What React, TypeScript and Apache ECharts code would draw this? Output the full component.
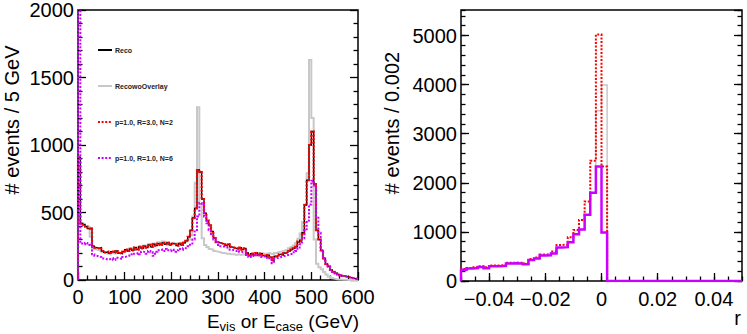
import React, { useEffect, useRef } from "react";
import * as echarts from "echarts";

const FONT = '"Liberation Sans", Arial, Helvetica, sans-serif';

// ---------- left panel: E_vis / E_case, 5 GeV bins from 0 to 600 ----------
const eBinStart = 0;
const eBinWidth = 5;
const eAxisMax = 600;
const eYMax = 2000;

const recoVals = [
  910, 420, 410, 395, 380, 385, 250, 240, 235, 240,
  215, 205, 210, 200, 210, 205, 215, 200, 195, 210,
  225, 215, 230, 220, 240, 225, 245, 235, 250, 240,
  260, 245, 265, 255, 270, 260, 275, 265, 275, 260,
  270, 265, 255, 270, 260, 275, 290, 320, 370, 460,
  530, 815, 800, 600, 495, 440, 405, 360, 310, 280,
  275, 270, 265, 255, 265, 245, 240, 235, 230, 240,
  225, 235, 200, 180, 195, 185, 200, 185, 195, 180,
  175, 185, 170, 145, 175, 180, 190, 185, 200, 205,
  215, 225, 235, 245, 280, 295, 350, 555, 740, 1000,
  1100, 710, 370, 300, 220, 160, 120, 100, 75, 60,
  50, 42, 36, 30, 26, 22, 18, 14, 10, 6,
];

const recoWoOverlayVals = [
  480, 420, 415, 400, 395, 320, 230, 225, 220, 215,
  205, 200, 195, 190, 200, 195, 205, 200, 195, 205,
  220, 225, 235, 230, 245, 240, 250, 245, 255, 250,
  265, 260, 270, 265, 280, 275, 285, 280, 280, 270,
  275, 270, 265, 275, 270, 280, 285, 300, 330, 470,
  720, 1280, 560, 310, 260, 245, 230, 225, 215, 210,
  205, 200, 200, 195, 195, 190, 190, 185, 190, 185,
  190, 185, 190, 185, 195, 190, 195, 190, 200, 195,
  195, 200, 195, 190, 200, 205, 210, 215, 220, 225,
  235, 245, 255, 275, 305, 345, 430, 560, 790, 1630,
  1200, 300, 120, 95, 80, 60, 40, 25, 15, 10,
  6, 4, 3, 2, 1, 0, 0, 0, 0, 0,
];

const p1R3N2Vals = [
  910, 420, 410, 395, 380, 385, 250, 240, 235, 240,
  215, 205, 210, 200, 210, 205, 215, 200, 195, 210,
  225, 215, 230, 220, 240, 225, 245, 235, 250, 240,
  260, 245, 265, 255, 270, 260, 275, 265, 275, 260,
  270, 265, 255, 270, 260, 275, 290, 320, 370, 460,
  530, 815, 800, 600, 495, 440, 405, 360, 310, 280,
  275, 270, 265, 255, 265, 245, 240, 235, 230, 240,
  225, 235, 200, 180, 195, 185, 200, 185, 195, 180,
  175, 185, 170, 145, 175, 180, 190, 185, 200, 205,
  215, 225, 235, 245, 285, 290, 345, 555, 740, 1000,
  1100, 710, 370, 300, 220, 160, 120, 100, 75, 60,
  50, 42, 36, 30, 26, 22, 18, 14, 10, 6,
];

const p1R1N6Vals = [
  2150, 270, 265, 275, 260, 270, 190, 180, 175, 170,
  160, 155, 150, 155, 160, 150, 165, 160, 155, 170,
  175, 180, 190, 185, 195, 200, 190, 210, 205, 195,
  215, 205, 180, 210, 220, 225, 215, 230, 220, 215,
  225, 210, 220, 230, 225, 235, 240, 250, 270, 300,
  360, 470, 570, 555, 470, 420, 370, 340, 300, 280,
  260, 250, 245, 240, 235, 225, 220, 215, 220, 210,
  205, 210, 185, 170, 180, 175, 185, 180, 170, 175,
  165, 170, 150, 125, 160, 165, 170, 175, 180, 185,
  190, 195, 205, 215, 240, 265, 310, 365, 440, 560,
  735, 700, 470, 350, 220, 160, 120, 100, 75, 60,
  50, 42, 36, 30, 26, 22, 18, 14, 10, 6,
];

// ---------- right panel: r, 0.002 bins from -0.05 to 0.05 ----------
const rBinStart = -0.05;
const rBinWidth = 0.002;
const rAxisMax = 0.05;
const rYMax = 5520;
const rTickLabels = [-0.04, -0.02, 0, 0.02, 0.04];

const rWoOverlayVals = [
  230, 255, 265, 285, 260, 300, 300, 310, 355, 360,
  355, 340, 430, 460, 520, 525, 560, 680, 690, 790,
  950, 1050, 1350, 1800, 3470, 3990, 0, 0, 0, 0,
  0, 0, 0, 0, 0, 0, 0, 0, 0, 0,
  0, 0, 0, 0, 0, 0, 0, 0, 0, 0,
];
const rR3N2Vals = [
  245, 265, 280, 300, 280, 315, 315, 325, 370, 375,
  370, 355, 450, 480, 540, 545, 600, 735, 740, 890,
  1040, 1245, 1620, 2450, 5020, 2330, 0, 0, 0, 0,
  0, 0, 0, 0, 0, 0, 0, 0, 0, 0,
  0, 0, 0, 0, 0, 0, 0, 0, 0, 0,
];
const rR1N6Vals = [
  230, 255, 265, 285, 260, 300, 300, 310, 355, 360,
  355, 340, 430, 460, 520, 525, 560, 680, 690, 790,
  950, 1050, 1350, 1800, 2330, 990, 0, 0, 0, 0,
  0, 0, 0, 0, 0, 0, 0, 0, 0, 0,
  0, 0, 0, 0, 0, 0, 0, 0, 0, 0,
];

const legendNames = ["Reco", "RecowoOverlay", "p=1.0, R=3.0, N=2", "p=1.0, R=1.0, N=6"];

const C_GREY = "#c8c8c8";
const C_BLACK = "#000000";
const C_RED = "#ff0000";
const C_MAG = "#cc00ff";

function histPoints(vals: number[], x0: number, w: number, closeRight: boolean) {
  const pts: number[][] = [[x0, 0]];
  vals.forEach((v, i) => pts.push([+(x0 + i * w).toFixed(6), v]));
  const xe = +(x0 + vals.length * w).toFixed(6);
  pts.push([xe, vals[vals.length - 1]]);
  if (closeRight) pts.push([xe, 0]);
  return pts;
}

const tickStyle = { color: "#000", width: 1.3 };
const hidden = { show: false };
const noLine = { show: false, onZero: false };
const plain = (v: number) => String(v);

function histSeries(name: string, vals: number[], x0: number, w: number, xi: number, yi: number, color: string, width: number, dotted: boolean, z: number, closeRight: boolean) {
  return {
    name,
    type: "line",
    xAxisIndex: xi,
    yAxisIndex: yi,
    data: histPoints(vals, x0, w, closeRight),
    step: "end",
    symbol: "none",
    showSymbol: false,
    clip: true,
    z,
    itemStyle: { color },
    lineStyle: { color, width, type: dotted ? [2, 1.6] : "solid", cap: "butt", join: "miter" },
  };
}

function legendItem(name: string, color: string, dotted: boolean, y: number) {
  return [
    {
      type: "line",
      shape: { x1: 98, y1: y, x2: 112, y2: y },
      style: { stroke: color, lineWidth: 2, lineDash: dotted ? [2, 1.6] : null },
    },
    {
      type: "text",
      x: 115,
      y,
      style: { text: name, fontFamily: FONT, fontSize: 7, fontWeight: "bold", fill: "#222", textAlign: "left", textVerticalAlign: "middle", verticalAlign: "middle" },
    },
  ];
}

export default function App() {
  const ref = useRef<HTMLDivElement>(null);
  useEffect(() => {
    if (!ref.current) return;
    const chart = echarts.init(ref.current, undefined, { renderer: "svg" });
    const labelStyle = { fontFamily: FONT, fontSize: 20, color: "#000" };
    const option: any = {
      animation: false,
      backgroundColor: "#fff",
      grid: [
        { left: 78, top: 10, width: 280, height: 270, show: true, borderColor: "#000", borderWidth: 1.5, backgroundColor: "transparent" },
        { left: 461, top: 10, width: 281, height: 271, show: true, borderColor: "#000", borderWidth: 1.5, backgroundColor: "transparent" },
      ],
      xAxis: [
        {
          type: "value", gridIndex: 0, position: "bottom", min: eBinStart, max: eAxisMax, interval: 100,
          axisLine: noLine, splitLine: hidden,
          axisTick: { show: true, inside: true, length: 8, lineStyle: tickStyle },
          minorTick: { show: true, splitNumber: 5, length: 4.5, lineStyle: tickStyle },
          axisLabel: { ...labelStyle, margin: 7, formatter: plain },
        },
        {
          type: "value", gridIndex: 1, position: "bottom", min: rBinStart, max: rAxisMax,
          axisLine: noLine, splitLine: hidden,
          axisTick: { show: true, inside: true, length: 8, lineStyle: tickStyle, customValues: rTickLabels },
          axisLabel: {
            ...labelStyle, margin: 8, customValues: rTickLabels,
            formatter: (v: number) => (v < 0 ? "\u2212" + String(Math.abs(v)) : String(v)),
          },
        },
        {
          type: "value", gridIndex: 1, position: "bottom", min: rBinStart, max: rAxisMax, interval: 0.005,
          axisLine: noLine, splitLine: hidden, axisLabel: hidden,
          axisTick: { show: true, inside: true, length: 4.5, lineStyle: tickStyle },
        },
      ],
      yAxis: [
        {
          type: "value", gridIndex: 0, position: "left", min: 0, max: eYMax, interval: 500,
          axisLine: noLine, splitLine: hidden,
          axisTick: { show: true, inside: true, length: 8, lineStyle: tickStyle },
          minorTick: { show: true, splitNumber: 5, length: 4.5, lineStyle: tickStyle },
          axisLabel: { ...labelStyle, margin: 4, formatter: plain },
        },
        {
          type: "value", gridIndex: 0, position: "right", min: 0, max: eYMax, interval: 500,
          axisLine: noLine, splitLine: hidden, axisLabel: hidden,
          axisTick: { show: true, inside: true, length: 8, lineStyle: tickStyle },
          minorTick: { show: true, splitNumber: 5, length: 4.5, lineStyle: tickStyle },
        },
        {
          type: "value", gridIndex: 1, position: "left", min: 0, max: rYMax, interval: 1000,
          axisLine: noLine, splitLine: hidden,
          axisTick: { show: true, inside: true, length: 8, lineStyle: tickStyle },
          axisLabel: { ...labelStyle, margin: 4, showMaxLabel: false, formatter: plain },
        },
        {
          type: "value", gridIndex: 1, position: "left", min: 0, max: rYMax, interval: 200,
          axisLine: noLine, splitLine: hidden, axisLabel: hidden,
          axisTick: { show: true, inside: true, length: 4.5, lineStyle: tickStyle },
        },
        {
          type: "value", gridIndex: 1, position: "right", min: 0, max: rYMax, interval: 1000,
          axisLine: noLine, splitLine: hidden, axisLabel: hidden,
          axisTick: { show: true, inside: true, length: 8, lineStyle: tickStyle },
        },
        {
          type: "value", gridIndex: 1, position: "right", min: 0, max: rYMax, interval: 200,
          axisLine: noLine, splitLine: hidden, axisLabel: hidden,
          axisTick: { show: true, inside: true, length: 4.5, lineStyle: tickStyle },
        },
      ],
      series: [
        histSeries(legendNames[1], recoWoOverlayVals, eBinStart, eBinWidth, 0, 0, C_GREY, 2, false, 2, false),
        histSeries(legendNames[0], recoVals, eBinStart, eBinWidth, 0, 0, C_BLACK, 1.3, false, 3, false),
        histSeries(legendNames[2], p1R3N2Vals, eBinStart, eBinWidth, 0, 0, C_RED, 2.2, true, 4, false),
        histSeries(legendNames[3], p1R1N6Vals, eBinStart, eBinWidth, 0, 0, C_MAG, 2, true, 5, false),
        histSeries("r: RecowoOverlay", rWoOverlayVals, rBinStart, rBinWidth, 1, 2, C_GREY, 1.5, false, 2, true),
        histSeries("r: p=1.0, R=3.0, N=2", rR3N2Vals, rBinStart, rBinWidth, 1, 2, C_RED, 2, true, 4, true),
        histSeries("r: p=1.0, R=1.0, N=6", rR1N6Vals, rBinStart, rBinWidth, 1, 2, C_MAG, 2.5, false, 5, true),
      ],
      graphic: [
        ...legendItem(legendNames[0], C_BLACK, false, 50),
        ...legendItem(legendNames[1], C_GREY, false, 86),
        ...legendItem(legendNames[2], C_RED, true, 122),
        ...legendItem(legendNames[3], C_MAG, true, 158),
        {
          type: "text", x: 12, y: 120, rotation: Math.PI / 2,
          style: { text: "# events / 5 GeV", fontFamily: FONT, fontSize: 20, fill: "#000", textAlign: "center", textVerticalAlign: "middle", verticalAlign: "middle" },
        },
        {
          type: "text", x: 391.5, y: 123, rotation: Math.PI / 2,
          style: { text: "# events / 0.002", fontFamily: FONT, fontSize: 20, fill: "#000", textAlign: "center", textVerticalAlign: "middle", verticalAlign: "middle" },
        },
        {
          type: "text", x: 359, y: 321,
          style: {
            text: "{m|E}{s|vis}{m| or E}{s|case}{m| (GeV)}",
            fontFamily: FONT, fontSize: 19, fill: "#000", textAlign: "right", textVerticalAlign: "middle", verticalAlign: "middle",
            rich: {
              m: { fontFamily: FONT, fontSize: 19, fill: "#000", lineHeight: 24, verticalAlign: "middle" },
              s: { fontFamily: FONT, fontSize: 13, fill: "#000", lineHeight: 14, verticalAlign: "bottom" },
            },
          },
        },
        {
          type: "text", x: 741, y: 318,
          style: { text: "r", fontFamily: FONT, fontSize: 20, fill: "#000", textAlign: "right", textVerticalAlign: "middle", verticalAlign: "middle" },
        },
      ],
    };
    chart.setOption(option);
    return () => chart.dispose();
  }, []);
  return <div ref={ref} style={{ position: "fixed", left: 0, top: 0, width: 747, height: 334 }} />;
}
